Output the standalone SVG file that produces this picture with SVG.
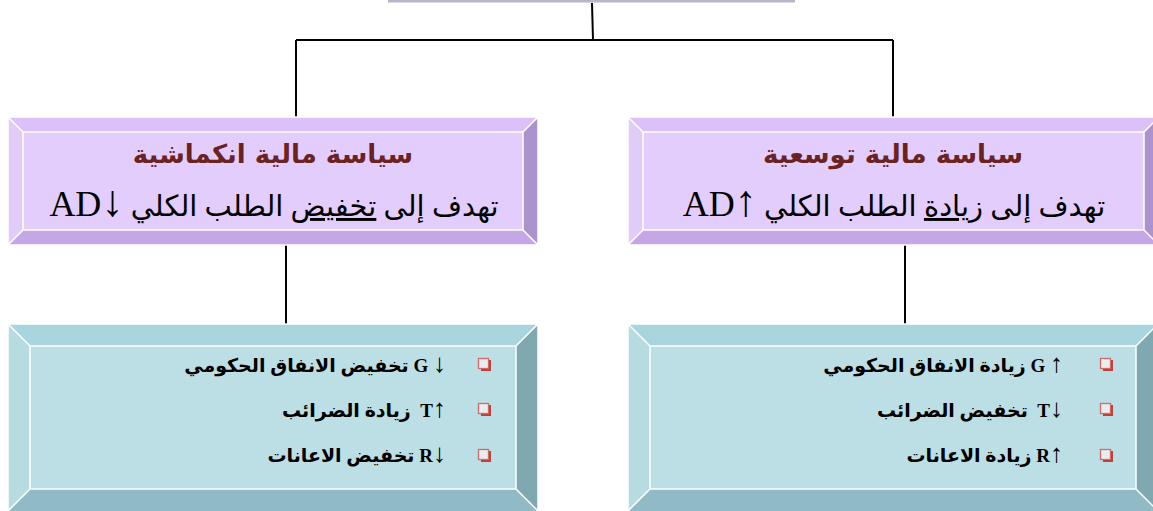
<svg xmlns="http://www.w3.org/2000/svg" width="1153" height="511" viewBox="0 0 1153 511">
<style>
.edge{stroke:#fff;stroke-width:1.5;fill:none}
.p-top{fill:#dcc0f8}.p-left{fill:#e1ccf9}.p-right{fill:#ad93ce}.p-bot{fill:#c4a7e4}.p-in{fill:#e3cdfc}
.t-top{fill:#a9d6de}.t-left{fill:#b6dce2}.t-right{fill:#80a8b1}.t-bot{fill:#90bac6}.t-in{fill:#bcdfe5}
.title{font-family:"DejaVu Sans","Liberation Sans",sans-serif;font-weight:bold;font-size:26px;fill:#6b2222}
.sub{font-family:"Liberation Serif","DejaVu Serif","DejaVu Sans",serif;font-size:29px;fill:#000}
.lat{font-size:36px}
.arr{font-size:44px}
.item{font-family:"Liberation Serif","DejaVu Sans",sans-serif;font-weight:bold;font-size:19px;fill:#000}
.ia{font-size:26px;font-weight:normal}
.conn{stroke:#000;stroke-width:2;fill:none}
.bul{fill:#e8eef0;stroke:#d26a68;stroke-width:1.3}
.bsh{fill:none;stroke:#c0403c;stroke-width:2}
</style>
<g id="top-node">
<rect x="388" y="0" width="407" height="3" fill="#b8b4c9"/>
<line x1="388" y1="3" x2="795" y2="3" stroke="#fff" stroke-width="1"/>
</g>
<g id="connectors">
<path class="conn" d="M592,3 L593,40"/>
<path class="conn" d="M296,40 L893,40"/>
<path class="conn" d="M296,40 L296,117"/>
<path class="conn" d="M893,40 L893,117"/>
<path class="conn" d="M286,245 L286,324"/>
<path class="conn" d="M905,245 L905,324"/>
</g>
<g id="contractionary">
<polygon class="p-top" points="8,117 538,117 523,132 23,132"/>
<polygon class="p-left" points="8,117 23,132 23,230 8,245"/>
<polygon class="p-right" points="538,117 538,245 523,230 523,132"/>
<polygon class="p-bot" points="8,245 23,230 523,230 538,245"/>
<rect class="p-in" x="23" y="132" width="500" height="98"/>
<path class="edge" d="M8,117 H538 V245 H8 Z M23,132 H523 V230 H23 Z M8,117 L23,132 M538,117 L523,132 M8,245 L23,230 M538,245 L523,230"/>
<text class="title" x="273" y="163" text-anchor="middle" direction="rtl">سياسة مالية انكماشية</text>
<text class="sub" x="274" y="216" text-anchor="middle" direction="rtl">تهدف إلى <tspan text-decoration="underline">تخفيض</tspan> الطلب الكلي <tspan class="arr">↓</tspan><tspan class="lat">AD</tspan></text>
</g>
<g id="expansionary">
<polygon class="p-top" points="628,117 1159,117 1144,132 643,132"/>
<polygon class="p-left" points="628,117 643,132 643,230 628,245"/>
<polygon class="p-right" points="1159,117 1159,245 1144,230 1144,132"/>
<polygon class="p-bot" points="628,245 643,230 1144,230 1159,245"/>
<rect class="p-in" x="643" y="132" width="501" height="98"/>
<path class="edge" d="M628,117 H1159 V245 H628 Z M643,132 H1144 V230 H643 Z M628,117 L643,132 M1159,117 L1144,132 M628,245 L643,230 M1159,245 L1144,230"/>
<text class="title" x="893" y="163" text-anchor="middle" direction="rtl">سياسة مالية توسعية</text>
<text class="sub" x="894" y="216" text-anchor="middle" direction="rtl">تهدف إلى <tspan text-decoration="underline">زيادة</tspan> الطلب الكلي <tspan class="arr">↑</tspan><tspan class="lat">AD</tspan></text>
</g>
<g id="contractionary-tools">
<polygon class="t-top" points="8,324 538,324 516,346 30,346"/>
<polygon class="t-left" points="8,324 30,346 30,489 8,511"/>
<polygon class="t-right" points="538,324 538,511 516,489 516,346"/>
<polygon class="t-bot" points="8,511 30,489 516,489 538,511"/>
<rect class="t-in" x="30" y="346" width="486" height="143"/>
<path class="edge" d="M8,324 H538 V511 M8,511 V324 M30,346 H516 V489 H30 Z M8,324 L30,346 M538,324 L516,346 M8,511 L30,489 M538,511 L516,489"/>
<rect class="bul" x="478.5" y="358.5" width="10" height="10"/><path class="bsh" d="M481,370 H490 V360"/>
<rect class="bul" x="478.5" y="403.5" width="10" height="10"/><path class="bsh" d="M481,415 H490 V405"/>
<rect class="bul" x="478.5" y="449.5" width="10" height="10"/><path class="bsh" d="M481,461 H490 V451"/>
<text class="item" x="446" y="372" direction="rtl" xml:space="preserve"><tspan class="ia">↓</tspan> G تخفيض الانفاق الحكومي</text>
<text class="item" x="446" y="417" direction="rtl" xml:space="preserve"><tspan class="ia">↑</tspan>T  زيادة الضرائب</text>
<text class="item" x="446" y="462" direction="rtl" xml:space="preserve"><tspan class="ia">↓</tspan>R تخفيض الاعانات</text>
</g>
<g id="expansionary-tools">
<polygon class="t-top" points="628,324 1158,324 1136,346 650,346"/>
<polygon class="t-left" points="628,324 650,346 650,489 628,511"/>
<polygon class="t-right" points="1158,324 1158,511 1136,489 1136,346"/>
<polygon class="t-bot" points="628,511 650,489 1136,489 1158,511"/>
<rect class="t-in" x="650" y="346" width="486" height="143"/>
<path class="edge" d="M628,511 V324 H1158 M650,346 H1136 V489 H650 Z M628,324 L650,346 M1158,324 L1136,346 M628,511 L650,489 M1158,511 L1136,489"/>
<rect class="bul" x="1100.5" y="358.5" width="10" height="10"/><path class="bsh" d="M1103,370 H1112 V360"/>
<rect class="bul" x="1100.5" y="403.5" width="10" height="10"/><path class="bsh" d="M1103,415 H1112 V405"/>
<rect class="bul" x="1100.5" y="449.5" width="10" height="10"/><path class="bsh" d="M1103,461 H1112 V451"/>
<text class="item" x="1063" y="372" direction="rtl" xml:space="preserve"><tspan class="ia">↑</tspan> G زيادة الانفاق الحكومي</text>
<text class="item" x="1063" y="417" direction="rtl" xml:space="preserve"><tspan class="ia">↓</tspan>T  تخفيض الضرائب</text>
<text class="item" x="1063" y="462" direction="rtl" xml:space="preserve"><tspan class="ia">↑</tspan>R زيادة الاعانات</text>
</g>
</svg>
